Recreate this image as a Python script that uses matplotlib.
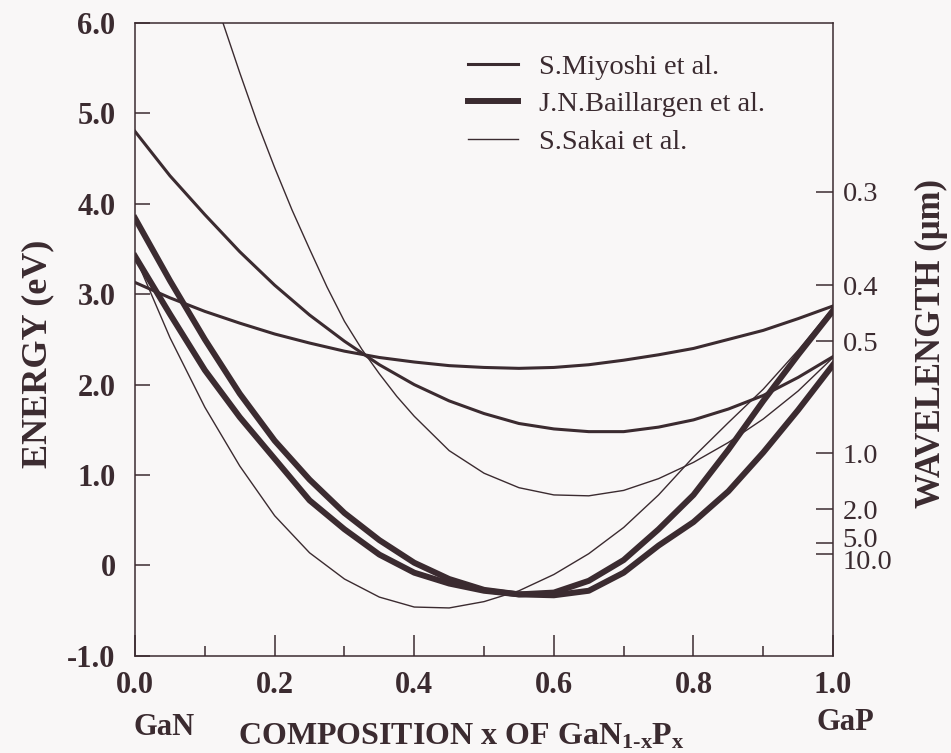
import numpy as np
import matplotlib
matplotlib.use("Agg")
import matplotlib.pyplot as plt
from matplotlib.transforms import ScaledTranslation

# composition grid used for the read-off values
x_grid = [0.0, 0.05, 0.1, 0.15, 0.2, 0.25, 0.3, 0.35, 0.4, 0.45, 0.5,
          0.55, 0.6, 0.65, 0.7, 0.75, 0.8, 0.85, 0.9, 0.95, 1.0]

# S.Miyoshi et al. (two curves, medium line)
miyoshi_a = [4.80, 4.31, 3.88, 3.47, 3.10, 2.77, 2.48, 2.22, 2.00, 1.82, 1.68,
             1.57, 1.51, 1.48, 1.48, 1.53, 1.61, 1.73, 1.88, 2.08, 2.31]
miyoshi_b = [3.13, 2.96, 2.81, 2.68, 2.56, 2.46, 2.37, 2.30, 2.25, 2.21, 2.19,
             2.18, 2.19, 2.22, 2.27, 2.33, 2.40, 2.50, 2.60, 2.73, 2.87]

# J.N.Baillargen et al. (two curves, thick line)
baill_a = [3.84, 3.15, 2.50, 1.90, 1.38, 0.95, 0.58, 0.28, 0.03, -0.15, -0.27,
           -0.32, -0.30, -0.17, 0.06, 0.40, 0.78, 1.28, 1.82, 2.33, 2.82]
baill_b = [3.42, 2.78, 2.16, 1.64, 1.18, 0.72, 0.40, 0.12, -0.08, -0.20, -0.28,
           -0.32, -0.33, -0.28, -0.08, 0.22, 0.48, 0.82, 1.25, 1.72, 2.22]

# S.Sakai et al. (two curves, thin line)
sakai_ax = [0.126, 0.15, 0.175, 0.2, 0.225, 0.25, 0.275, 0.3, 0.325, 0.35, 0.375,
            0.4, 0.45, 0.5, 0.55, 0.6, 0.65, 0.7, 0.75, 0.8, 0.85, 0.9, 0.95, 1.0]
sakai_a = [6.0, 5.45, 4.90, 4.40, 3.93, 3.50, 3.08, 2.70, 2.39, 2.12, 1.87,
           1.65, 1.27, 1.02, 0.86, 0.78, 0.77, 0.83, 0.96, 1.14, 1.36, 1.62, 1.93, 2.30]
sakai_b = [3.42, 2.52, 1.75, 1.10, 0.55, 0.14, -0.15, -0.35, -0.46, -0.47, -0.40,
           -0.28, -0.10, 0.13, 0.42, 0.78, 1.20, 1.58, 1.95, 2.38, 2.85]

energy_ticks = [-1.0, 0.0, 1.0, 2.0, 3.0, 4.0, 5.0, 6.0]
energy_labels = ["-1.0", "0", "1.0", "2.0", "3.0", "4.0", "5.0", "6.0"]
comp_ticks = [0.0, 0.2, 0.4, 0.6, 0.8, 1.0]
comp_labels = ["0.0", "0.2", "0.4", "0.6", "0.8", "1.0"]
wavelengths = [0.3, 0.4, 0.5, 1.0, 2.0, 5.0, 10.0]
wl_labels = ["0.3", "0.4", "0.5", "1.0", "2.0", "5.0", "10.0"]

ink = "#3b2b30"
bg = "#f9f7f7"
plt.rcParams["font.family"] = ["Liberation Serif", "DejaVu Serif"]
plt.rcParams["mathtext.fontset"] = "custom"
plt.rcParams["mathtext.rm"] = "Liberation Serif:bold"
plt.rcParams["mathtext.bf"] = "Liberation Serif:bold"
plt.rcParams["mathtext.default"] = "bf"
plt.rcParams["lines.solid_joinstyle"] = "round"

fig = plt.figure(figsize=(9.51, 7.53), dpi=100, facecolor=bg)
ax = fig.add_axes([0.142, 0.129, 0.734, 0.8405])
ax.set_facecolor(bg)

ax.plot(x_grid, miyoshi_a, color=ink, lw=2.2, label="S.Miyoshi et al.")
ax.plot(x_grid, miyoshi_b, color=ink, lw=2.2)
ax.plot(x_grid, baill_a, color=ink, lw=4.3, label="J.N.Baillargen et al.")
ax.plot(x_grid, baill_b, color=ink, lw=4.3)
ax.plot(sakai_ax, sakai_a, color=ink, lw=1.0, label="S.Sakai et al.")
ax.plot(x_grid, sakai_b, color=ink, lw=1.0)

ax.set_xlim(0, 1)
ax.set_ylim(-1, 6)
for s in ax.spines.values():
    s.set_color(ink)
    s.set_linewidth(1.1)

ax.set_xticks(comp_ticks)
ax.set_xticklabels(comp_labels, fontsize=22, fontweight="bold", color=ink)
ax.set_xticks([0.1, 0.3, 0.5, 0.7, 0.9], minor=True)
ax.tick_params(axis="x", which="major", direction="in", length=15, width=1.1,
               color=ink, pad=11, top=False)
ax.tick_params(axis="x", which="minor", direction="in", length=7, width=1.1,
               color=ink, top=False)
ax.set_yticks(energy_ticks)
ax.set_yticklabels(energy_labels, fontsize=22, fontweight="bold", color=ink)
ax.tick_params(axis="y", direction="in", length=11, width=1.1, color=ink, pad=14)

ax2 = ax.twinx()
ax2.set_ylim(-1, 6)
ax2.set_yticks([1.24 / w for w in wavelengths])
ax2.set_yticklabels(wl_labels, fontsize=20.5, color=ink)
ax2.tick_params(axis="y", direction="in", length=12, width=1.1, color=ink, pad=7)
for s in ax2.spines.values():
    s.set_visible(False)
# the 5.0 and 10.0 labels sit very close together, nudge them apart a little
tl = ax2.get_yticklabels()
tl[5].set_transform(tl[5].get_transform() + ScaledTranslation(0, 4 / 72, fig.dpi_scale_trans))
tl[6].set_transform(tl[6].get_transform() + ScaledTranslation(0, -4 / 72, fig.dpi_scale_trans))

ax.set_ylabel("ENERGY (eV)", fontsize=26, fontweight="bold", color=ink)
ax.yaxis.set_label_coords(-0.115, 0.477)
ax2.set_ylabel("WAVELENGTH (\u03bcm)", fontsize=25, fontweight="bold", color=ink)
ax2.yaxis.set_label_coords(1.1175, 0.494)

fig.text(0.173, 0.0345, "GaN", fontsize=22, fontweight="bold", color=ink,
         ha="center", va="center")
fig.text(0.889, 0.041, "GaP", fontsize=22, fontweight="bold", color=ink,
         ha="center", va="center")
fig.text(0.485, 0.021, r"COMPOSITION x OF GaN$_{1\text{-}x}$P$_{x}$", fontsize=23,
         fontweight="bold", color=ink, ha="center", va="center")

ax.legend(loc="upper left", bbox_to_anchor=(0.44, 0.992), frameon=False,
          fontsize=20.5, handlelength=1.75, handletextpad=0.75, labelspacing=0.41,
          labelcolor=ink)

fig.savefig("out.png", dpi=100, facecolor=fig.get_facecolor())
